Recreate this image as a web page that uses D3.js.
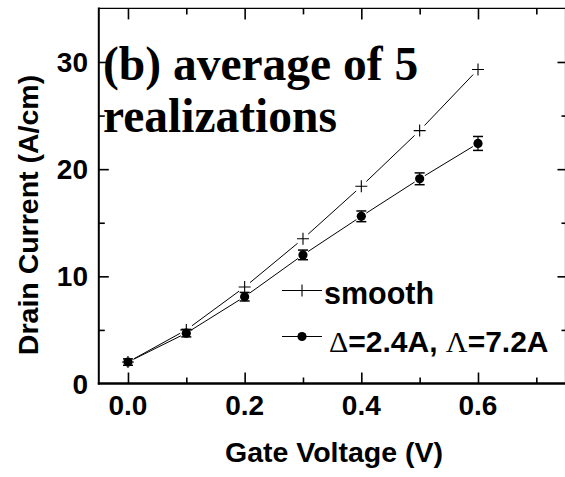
<!DOCTYPE html>
<html>
<head>
<meta charset="utf-8">
<script src="https://cdn.jsdelivr.net/npm/d3@7"></script>
<style>
  html, body { margin: 0; padding: 0; background: #fff; }
  svg { display: block; }
</style>
</head>
<body>
<svg id="chart" width="565" height="477"></svg>
<script>
// Gate voltage sweep (V)
const gateVoltage = [0.0, 0.1, 0.2, 0.3, 0.4, 0.5, 0.6];
// Drain current for the smooth channel (A/cm)
const smoothCurrent = [2.0, 5.0, 9.0, 13.5, 18.4, 23.6, 29.3];
// Drain current averaged over 5 rough realizations (A/cm) and its spread
const roughCurrent = [2.0, 4.7, 8.1, 12.0, 15.6, 19.1, 22.4];
const roughError = [0.3, 0.35, 0.4, 0.45, 0.5, 0.55, 0.65];
// Axis ticks
const xMajorTicks = [0.0, 0.2, 0.4, 0.6];
const xMinorTicks = [0.1, 0.3, 0.5, 0.7];
const yMajorTicks = [0, 10, 20, 30];
const yMinorTicks = [5, 15, 25];
const legendLabels = ["smooth", "Δ=2.4A, Λ=7.2A"];

const svg = d3.select("#chart");
const sans = "'Liberation Sans', Arial, sans-serif";
const serif = "'Liberation Serif', 'Times New Roman', serif";

const x = d3.scaleLinear().domain([-0.05, 0.75]).range([98.8, 565.5]);
const y = d3.scaleLinear().domain([0, 35]).range([383.5, 8.4]);
const [x0, x1] = x.range();
const [y0, y1] = y.range();

// ---- frame and inward ticks ----
const axes = svg.append("g");
function tickAxis(gen, transform, size) {
  const g = axes.append("g").attr("transform", transform)
    .call(gen.tickSize(size).tickFormat(""));
  g.select(".domain").remove();
  g.selectAll(".tick line").attr("stroke", "#000").attr("stroke-width", 1.6);
  return g;
}
tickAxis(d3.axisBottom(x).tickValues(xMajorTicks), `translate(0,${y0})`, -11);
tickAxis(d3.axisBottom(x).tickValues(xMinorTicks), `translate(0,${y0})`, -6);
tickAxis(d3.axisTop(x).tickValues(xMajorTicks), `translate(0,${y1})`, -11);
tickAxis(d3.axisTop(x).tickValues(xMinorTicks), `translate(0,${y1})`, -6);
tickAxis(d3.axisLeft(y).tickValues(yMajorTicks.filter(d => d > 0)), `translate(${x0},0)`, -10);
tickAxis(d3.axisLeft(y).tickValues(yMinorTicks), `translate(${x0},0)`, -6);
tickAxis(d3.axisRight(y).tickValues(yMajorTicks.filter(d => d > 0)), `translate(${x1},0)`, -8);
tickAxis(d3.axisRight(y).tickValues(yMinorTicks), `translate(${x1},0)`, -4);

axes.append("line").attr("x1", x0).attr("x2", x1).attr("y1", y1).attr("y2", y1)
  .attr("stroke", "#000").attr("stroke-width", 1.2);
axes.append("line").attr("x1", x1).attr("x2", x1).attr("y1", y1).attr("y2", y0)
  .attr("stroke", "#000").attr("stroke-width", 1.2);
axes.append("line").attr("x1", x0).attr("x2", x0).attr("y1", y1 - 1).attr("y2", y0 + 1)
  .attr("stroke", "#000").attr("stroke-width", 2);
axes.append("line").attr("x1", x0 - 1).attr("x2", x1).attr("y1", y0).attr("y2", y0)
  .attr("stroke", "#000").attr("stroke-width", 2.4);

// ---- tick labels ----
svg.append("g").selectAll("text").data(xMajorTicks).join("text")
  .attr("x", d => x(d)).attr("y", 415)
  .attr("text-anchor", "middle")
  .attr("font-family", sans).attr("font-weight", "bold").attr("font-size", 28)
  .text(d3.format(".1f"));
svg.append("g").selectAll("text").data(yMajorTicks).join("text")
  .attr("x", 88).attr("y", d => y(d) + 10)
  .attr("text-anchor", "end")
  .attr("font-family", sans).attr("font-weight", "bold").attr("font-size", 28)
  .text(d => d);

// ---- axis titles ----
svg.append("text")
  .attr("x", 334).attr("y", 462)
  .attr("text-anchor", "middle")
  .attr("font-family", sans).attr("font-weight", "bold").attr("font-size", 28.5)
  .text("Gate Voltage (V)");
svg.append("text")
  .attr("transform", "translate(38,215) rotate(-90)")
  .attr("text-anchor", "middle")
  .attr("font-family", sans).attr("font-weight", "bold").attr("font-size", 28.5)
  .text("Drain Current (A/cm)");

// ---- panel title ----
const title = svg.append("text")
  .attr("font-family", serif).attr("font-weight", "bold").attr("font-size", 47.5);
title.append("tspan").attr("x", 103).attr("y", 80).text("(b) average of 5");
title.append("tspan").attr("x", 103).attr("y", 131.5).text("realizations");

// ---- series lines with small gaps at the markers ----
function gappedSegments(vals, gap) {
  const segs = [];
  for (let i = 0; i < vals.length - 1; i++) {
    const ax = x(gateVoltage[i]), ay = y(vals[i]);
    const bx = x(gateVoltage[i + 1]), by = y(vals[i + 1]);
    const len = Math.hypot(bx - ax, by - ay);
    const ux = (bx - ax) / len, uy = (by - ay) / len;
    segs.push([[ax + ux * gap, ay + uy * gap], [bx - ux * gap, by - uy * gap]]);
  }
  return segs;
}
const line = d3.line();
const plot = svg.append("g");
plot.selectAll("path.smooth").data(gappedSegments(smoothCurrent, 7)).join("path")
  .attr("class", "smooth").attr("d", line)
  .attr("fill", "none").attr("stroke", "#000").attr("stroke-width", 1);
plot.selectAll("path.rough").data(gappedSegments(roughCurrent, 6)).join("path")
  .attr("class", "rough").attr("d", line)
  .attr("fill", "none").attr("stroke", "#000").attr("stroke-width", 1);

// error bars
const eb = plot.selectAll("g.err").data(gateVoltage).join("g").attr("class", "err");
eb.append("line")
  .attr("x1", d => x(d)).attr("x2", d => x(d))
  .attr("y1", (d, i) => y(roughCurrent[i] - roughError[i]))
  .attr("y2", (d, i) => y(roughCurrent[i] + roughError[i]))
  .attr("stroke", "#000").attr("stroke-width", 1.2);
[-1, 1].forEach(s => {
  eb.append("line")
    .attr("x1", d => x(d) - 5).attr("x2", d => x(d) + 5)
    .attr("y1", (d, i) => y(roughCurrent[i] + s * roughError[i]))
    .attr("y2", (d, i) => y(roughCurrent[i] + s * roughError[i]))
    .attr("stroke", "#000").attr("stroke-width", 1.5);
});

// markers
function plusPath(cx, cy, r) {
  return `M${cx - r},${cy}H${cx + r}M${cx},${cy - r}V${cy + r}`;
}
plot.selectAll("path.plus").data(gateVoltage).join("path")
  .attr("class", "plus")
  .attr("d", (d, i) => plusPath(x(d), y(smoothCurrent[i]), 6))
  .attr("fill", "none").attr("stroke", "#000").attr("stroke-width", 1.1);
plot.selectAll("circle.dot").data(gateVoltage).join("circle")
  .attr("class", "dot")
  .attr("cx", d => x(d)).attr("cy", (d, i) => y(roughCurrent[i]))
  .attr("r", 4.6).attr("fill", "#000");

// ---- legend ----
const legend = svg.append("g");
const ly = [290.5, 336.5];
ly.forEach(yy => legend.append("line")
  .attr("x1", 282).attr("x2", 322).attr("y1", yy).attr("y2", yy)
  .attr("stroke", "#000").attr("stroke-width", 1));
legend.append("path").attr("d", plusPath(302, ly[0], 6))
  .attr("fill", "none").attr("stroke", "#000").attr("stroke-width", 1.1);
legend.append("circle").attr("cx", 302).attr("cy", ly[1]).attr("r", 4.6).attr("fill", "#000");
legend.append("text")
  .attr("x", 324).attr("y", 304)
  .attr("font-family", sans).attr("font-weight", "bold").attr("font-size", 30.5)
  .text(legendLabels[0]);
const lt = legend.append("text")
  .attr("x", 329).attr("y", 351.5)
  .attr("font-family", sans).attr("font-weight", "bold").attr("font-size", 30);
// Greek letters set in a serif face, the rest in bold sans
legendLabels[1].split(/([ΔΛ])/).filter(s => s.length).forEach(part => {
  const greek = part === "Δ" || part === "Λ";
  lt.append("tspan")
    .attr("font-family", greek ? serif : sans)
    .attr("font-weight", greek ? "normal" : "bold")
    .text(part);
});
</script>
</body>
</html>
